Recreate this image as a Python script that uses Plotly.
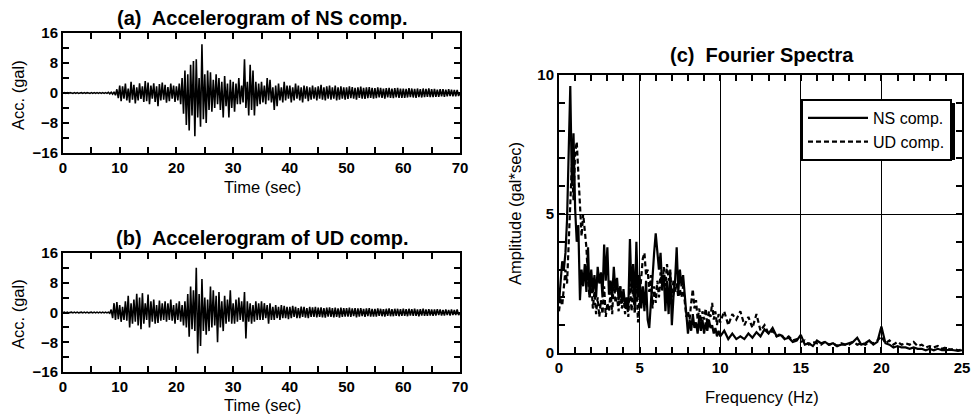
import plotly.graph_objects as go

# ---------------- data ----------------
DT = 0.25  # sampling step of the digitised accelerograms (sec)

NS_ACC = [
    0.0, 0.1, -0.1, 0.1, -0.1, 0.1, 0.0, -0.1, 0.1, -0.1, 0.1, -0.1, 0.0, 0.1, -0.1, 0.1, -0.1, 0.1, 0.0, -0.1,
    0.1, -0.1, 0.1, -0.1, 0.1, -0.1, 0.1, -0.1, 0.1, -0.1, 0.1, -0.1, 0.2, -0.2, 0.2, -0.3, 0.3, -0.6, 1.0, -1.4,
    2.0, -2.2, 1.8, -1.5, 2.5, -2.0, 1.2, -2.6, 3.0, -1.8, 2.2, -2.8, 1.5, -2.0, 2.6, -1.6, 1.8, -2.4, 3.2, -2.2,
    2.8, -3.0, 2.0, -1.5, 2.6, -2.4, 1.8, -3.5, 2.4, -2.0, 2.8, -1.8, 2.2, -2.6, 1.6, -2.2, 2.5, -1.5, 2.0, -2.4,
    1.8, -2.0, 2.5, -3.0, 4.0, -5.5, 6.0, -8.5, 5.0, -10.0, 7.5, -6.0, 8.5, -11.5, 9.0, -6.5, 4.0, -9.0, 13.0, -7.0,
    5.0, -8.0, 6.0, -4.5, 5.5, -5.0, 3.5, -4.0, 5.0, -3.0, 4.0, -4.5, 3.0, -6.5, 4.5, -3.5, 2.5, -6.5, 3.5, -4.0,
    3.0, -5.0, 2.5, -3.0, 4.0, -3.0, 2.0, -2.5, 9.0, -4.0, 3.0, -6.0, 7.5, -4.5, 6.0, -6.0, 3.0, -3.5, 2.5, -3.0,
    3.0, -2.5, 2.0, -3.0, 4.0, -2.0, 3.5, -2.5, 1.5, -4.5, 2.0, -3.5, 2.5, -2.0, 1.5, -2.5, 3.0, -2.0, 2.0, -1.5,
    2.0, -2.5, 1.5, -2.0, 2.5, -1.5, 2.0, -2.0, 1.5, -2.5, 2.0, -1.5, 1.8, -2.2, 1.5, -1.8, 2.0, -1.5, 1.5, -2.0,
    1.8, -1.5, 2.2, -1.8, 1.5, -2.0, 1.8, -1.5, 2.0, -1.8, 1.5, -1.5, 2.0, -2.0, 1.5, -1.8, 1.8, -1.5, 1.5, -1.8,
    1.5, -1.6, 1.8, -1.4, 1.6, -1.5, 1.4, -1.8, 1.5, -1.3, 1.7, -1.5, 1.4, -1.6, 1.5, -1.4, 1.6, -1.3, 1.4, -1.5,
    1.3, -1.4, 1.5, -1.2, 1.4, -1.3, 1.2, -1.5, 1.3, -1.2, 1.4, -1.3, 1.2, -1.4, 1.3, -1.2, 1.4, -1.3, 1.2, -1.3,
    1.2, -1.3, 1.1, -1.2, 1.3, -1.1, 1.2, -1.2, 1.1, -1.3, 1.2, -1.1, 1.0, -1.2, 1.2, -1.1, 1.1, -1.0, 1.2, -1.1,
    1.0, -1.1, 1.1, -1.0, 0.9, -1.0, 1.0, -0.9, 1.0, -1.0, 0.9, -0.9, 1.0, -0.8, 0.9, -0.9, 0.8, -0.9, 0.8, -0.8,
    0.0,
]

UD_ACC = [
    0.0, 0.1, -0.1, 0.1, -0.1, 0.0, 0.1, -0.1, 0.1, -0.1, 0.1, -0.1, 0.0, 0.1, -0.1, 0.1, -0.1, 0.1, -0.1, 0.0,
    0.1, -0.1, 0.1, -0.1, 0.1, -0.1, 0.1, -0.1, 0.1, -0.1, 0.1, -0.1, 0.1, -0.2, 0.8, -1.5, 2.5, -2.0, 2.8, -1.8,
    2.0, -2.5, 1.5, -2.0, 3.0, -2.2, 4.5, -4.0, 2.5, -3.0, 3.5, -2.5, 5.0, -3.5, 4.0, -4.5, 5.2, -3.0, 2.5, -2.0,
    4.8, -4.0, 3.0, -2.5, 3.5, -3.0, 2.0, -2.8, 3.2, -2.2, 2.5, -2.0, 3.0, -2.5, 2.5, -2.0, 3.5, -2.2, 2.0, -3.0,
    2.5, -2.0, 3.0, -2.5, 2.0, -3.5, 3.0, -4.0, 5.0, -6.5, 7.0, -4.5, 6.0, -5.0, 12.0, -11.0, 5.0, -9.0, 9.0, -5.0,
    4.0, -6.0, 3.5, -5.0, 7.0, -4.0, 6.0, -3.5, 4.5, -8.0, 5.5, -4.0, 3.0, -5.0, 4.5, -3.0, 3.5, -2.5, 6.0, -3.0,
    2.5, -3.0, 3.5, -2.5, 4.0, -2.0, 3.0, -2.5, 5.5, -7.0, 3.0, -2.5, 2.5, -3.0, 2.0, -2.5, 3.0, -2.0, 2.5, -2.0,
    3.0, -2.0, 2.5, -1.5, 2.0, -3.0, 2.5, -2.0, 1.5, -2.0, 2.0, -1.5, 1.5, -2.0, 2.0, -1.5, 1.8, -1.5, 1.5, -1.8,
    1.5, -1.5, 1.8, -1.2, 1.5, -1.5, 1.2, -1.5, 1.6, -1.2, 1.5, -1.4, 1.2, -1.5, 1.5, -1.2, 1.4, -1.2, 1.5, -1.3,
    1.3, -1.2, 1.4, -1.3, 1.2, -1.4, 1.3, -1.1, 1.4, -1.2, 1.2, -1.3, 1.3, -1.2, 1.1, -1.4, 1.3, -1.2, 1.2, -1.1,
    1.2, -1.1, 1.3, -1.2, 1.1, -1.0, 1.2, -1.3, 1.1, -1.1, 1.2, -1.0, 1.0, -1.2, 1.1, -1.0, 1.2, -1.1, 1.0, -1.1,
    1.0, -1.1, 1.1, -0.9, 1.0, -1.0, 0.9, -1.1, 1.0, -0.9, 1.1, -1.0, 0.9, -1.0, 1.0, -0.9, 1.0, -1.0, 0.9, -0.9,
    1.0, -0.9, 0.9, -1.0, 1.0, -0.8, 0.9, -0.9, 1.0, -0.9, 0.8, -1.0, 0.9, -0.8, 1.0, -0.9, 0.8, -0.9, 0.9, -0.8,
    0.8, -0.9, 0.8, -0.8, 0.9, -0.7, 0.8, -0.8, 0.7, -0.8, 0.8, -0.7, 0.7, -0.8, 0.8, -0.7, 0.7, -0.7, 0.8, -0.7,
    0.0,
]

TIME = [round(i * DT, 2) for i in range(len(NS_ACC))]

# Fourier spectra: 0-10 Hz every 0.1 Hz, 10.25-25 Hz every 0.25 Hz
FREQ = [round(0.1 * i, 2) for i in range(101)] + [round(10.25 + 0.25 * i, 2) for i in range(60)]

NS_AMP = [
    1.8, 2.6, 3.3, 3.0, 3.6, 4.8, 7.0, 9.6, 6.0, 7.9,
    5.2, 4.0, 4.6, 1.9, 3.0, 2.4, 3.2, 2.2, 3.8, 2.0,
    3.0, 2.2, 2.8, 2.0, 3.1, 2.5, 2.9, 2.0, 3.9, 2.6,
    3.8, 2.1, 2.6, 2.0, 3.1, 2.2, 2.7, 1.9, 2.4, 1.8,
    2.3, 1.7, 2.0, 1.6, 4.1, 2.2, 3.2, 1.6, 4.0, 2.0,
    2.8, 1.6, 2.4, 1.5, 2.6, 1.2, 0.9, 1.8, 3.0, 3.6,
    4.3, 3.5, 3.0, 3.6, 2.4, 2.8, 1.5, 2.6, 1.4, 3.0,
    1.0, 2.0, 2.6, 3.8, 2.2, 3.0, 2.4, 2.8, 2.0, 1.2,
    0.7, 1.2, 0.8, 1.4, 0.9, 1.1, 0.7, 1.3, 0.8, 1.2,
    0.7, 1.1, 0.8, 1.2, 0.9, 1.0, 0.7, 0.9, 0.6, 0.8,
    0.6,
    0.8, 0.5, 0.7, 0.5, 0.6, 0.5, 0.7, 0.55, 0.75, 0.6,
    0.85, 0.7, 0.9, 0.6, 0.65, 0.5, 0.55, 0.4, 0.45, 0.65,
    0.3, 0.35, 0.25, 0.45, 0.35, 0.4, 0.3, 0.35, 0.25, 0.3,
    0.3, 0.35, 0.4, 0.55, 0.3, 0.35, 0.45, 0.3, 0.4, 0.95,
    0.35, 0.3, 0.2, 0.25, 0.2, 0.2, 0.15, 0.2, 0.15, 0.15,
    0.1, 0.15, 0.1, 0.15, 0.1, 0.1, 0.12, 0.1, 0.08, 0.1,
]

UD_AMP = [
    1.5, 2.0, 1.7, 2.4, 3.0, 2.5, 4.0, 5.0, 6.8, 5.5,
    7.2, 7.6, 6.4, 5.6, 4.2, 5.0, 4.4, 3.8, 2.6, 2.0,
    2.6, 1.6, 2.2, 1.4, 2.0, 1.3, 1.9, 1.4, 2.4, 1.3,
    1.8, 1.5, 2.2, 1.4, 2.7, 1.8, 2.0, 1.5, 2.4, 1.6,
    2.1, 1.4, 1.9, 1.3, 2.5, 1.5, 2.3, 1.4, 2.6, 1.1,
    2.0, 2.8, 3.4, 3.6, 2.8, 3.0, 2.2, 2.8, 1.6, 2.4,
    1.8, 2.6, 2.0, 2.9, 2.2, 3.1, 2.4, 3.2, 2.6, 2.9,
    2.0, 2.6, 2.2, 2.5, 2.0, 2.3, 2.0, 2.4, 1.8, 1.3,
    1.5, 1.2, 1.8, 2.3, 1.6, 1.9, 1.2, 1.6, 1.1, 1.5,
    1.2, 1.6, 1.0, 1.5, 1.3, 1.8, 1.2, 1.5, 1.0, 1.4,
    1.1,
    1.5, 1.0, 1.4, 1.2, 1.5, 1.0, 1.3, 0.9, 1.4, 0.8,
    1.0, 0.7, 0.8, 0.6, 0.7, 0.5, 0.6, 0.45, 0.5, 0.4,
    0.45, 0.3, 0.4, 0.35, 0.3, 0.4, 0.3, 0.35, 0.25, 0.35,
    0.3, 0.3, 0.4, 0.3, 0.35, 0.3, 0.4, 0.35, 0.45, 0.6,
    0.35, 0.45, 0.3, 0.4, 0.3, 0.35, 0.3, 0.4, 0.25, 0.3,
    0.2, 0.25, 0.2, 0.25, 0.15, 0.2, 0.12, 0.15, 0.1, 0.12,
]

TITLES = ["(a)  Accelerogram of NS comp.", "(b)  Accelerogram of UD comp.", "(c)  Fourier Spectra"]
LEGEND_NAMES = ["NS comp.", "UD comp."]

# ---------------- figure ----------------
W, H = 973, 414
FONT = "Liberation Sans, Arial, Helvetica, sans-serif"


def px_x(p):
    return p / W


def px_y(p):
    return 1 - p / H


fig = go.Figure()

fig.add_trace(go.Scatter(x=TIME, y=NS_ACC, mode="lines", line=dict(color="black", width=1.6),
                         showlegend=False, xaxis="x", yaxis="y"))
fig.add_trace(go.Scatter(x=TIME, y=UD_ACC, mode="lines", line=dict(color="black", width=1.6),
                         showlegend=False, xaxis="x2", yaxis="y2"))
fig.add_trace(go.Scatter(x=FREQ, y=NS_AMP, mode="lines", name=LEGEND_NAMES[0],
                         line=dict(color="black", width=2.2), xaxis="x3", yaxis="y3"))
fig.add_trace(go.Scatter(x=FREQ, y=UD_AMP, mode="lines", name=LEGEND_NAMES[1],
                         line=dict(color="black", width=2.2, dash="5px,3px"), xaxis="x3", yaxis="y3"))

tickfont = dict(family=FONT, size=15, color="black", weight="bold")
base = dict(showline=True, linecolor="black", linewidth=2, mirror="ticks", ticks="inside",
            ticklen=6, tickwidth=2, tickcolor="black", zeroline=False, tickfont=tickfont,
            fixedrange=True, automargin=False)

acc_x = dict(base, range=[0, 70], tick0=0, dtick=10, showgrid=False,
             minor=dict(dtick=5, ticks="inside", ticklen=6, tickwidth=2, tickcolor="black", showgrid=False))
acc_y = dict(base, range=[-16, 16], tick0=0, dtick=8, showgrid=False,
             minor=dict(dtick=4, ticks="inside", ticklen=6, tickwidth=2, tickcolor="black", showgrid=False))

fig.update_layout(
    width=W, height=H,
    margin=dict(l=0, r=0, t=0, b=0, pad=0, autoexpand=False),
    paper_bgcolor="white", plot_bgcolor="white",
    font=dict(family=FONT, color="black"),
    xaxis=dict(acc_x, domain=[px_x(63), px_x(460)], anchor="y"),
    yaxis=dict(acc_y, domain=[px_y(153), px_y(33)], anchor="x"),
    xaxis2=dict(acc_x, domain=[px_x(63), px_x(460)], anchor="y2"),
    yaxis2=dict(acc_y, domain=[px_y(372), px_y(253)], anchor="x2"),
    xaxis3=dict(base, domain=[px_x(559), px_x(962)], anchor="y3", range=[0, 25], tick0=0, dtick=5,
                showgrid=True, gridcolor="black", gridwidth=1,
                minor=dict(dtick=1, ticks="inside", ticklen=6, tickwidth=2, tickcolor="black", showgrid=False)),
    yaxis3=dict(base, domain=[px_y(353), px_y(75)], anchor="x3", range=[0, 10], tick0=0, dtick=5,
                showgrid=True, gridcolor="black", gridwidth=1,
                minor=dict(dtick=1, ticks="inside", ticklen=6, tickwidth=2, tickcolor="black", showgrid=False)),
    legend=dict(x=px_x(952), y=px_y(99), xanchor="right", yanchor="top",
                bgcolor="white", bordercolor="black", borderwidth=2,
                font=dict(family=FONT, size=16, color="black"),
                itemwidth=60, tracegroupgap=0),
    showlegend=True,
)

# legend drop shadow
fig.add_shape(type="rect", xref="paper", yref="paper",
              x0=px_x(806), x1=px_x(955), y0=px_y(160), y1=px_y(103),
              fillcolor="black", line=dict(width=0), layer="above")

title_font = dict(family=FONT, size=20, color="black", weight="bold")
axis_font = dict(family=FONT, size=16.5, color="black")

ann = [
    dict(text=TITLES[0], x=px_x(262), y=px_y(18), font=title_font),
    dict(text=TITLES[1], x=px_x(262), y=px_y(238), font=title_font),
    dict(text=TITLES[2], x=px_x(762), y=px_y(55), font=title_font),
    dict(text="Time (sec)", x=px_x(262), y=px_y(187), font=axis_font),
    dict(text="Time (sec)", x=px_x(262), y=px_y(405), font=axis_font),
    dict(text="Frequency (Hz)", x=px_x(762), y=px_y(397), font=axis_font),
    dict(text="Acc. (gal)", x=px_x(18), y=px_y(95), font=axis_font, textangle=-90),
    dict(text="Acc. (gal)", x=px_x(18), y=px_y(314), font=axis_font, textangle=-90),
    dict(text="Amplitude (gal*sec)", x=px_x(515), y=px_y(214), font=axis_font, textangle=-90),
]
for a in ann:
    a.update(xref="paper", yref="paper", showarrow=False, xanchor="center", yanchor="middle")
    fig.add_annotation(**a)

fig.write_html(
    "out.html",
    config={"displayModeBar": False},
    post_script="document.body.style.margin='0';document.body.style.padding='0';"
                "document.body.style.overflow='hidden';",
)
